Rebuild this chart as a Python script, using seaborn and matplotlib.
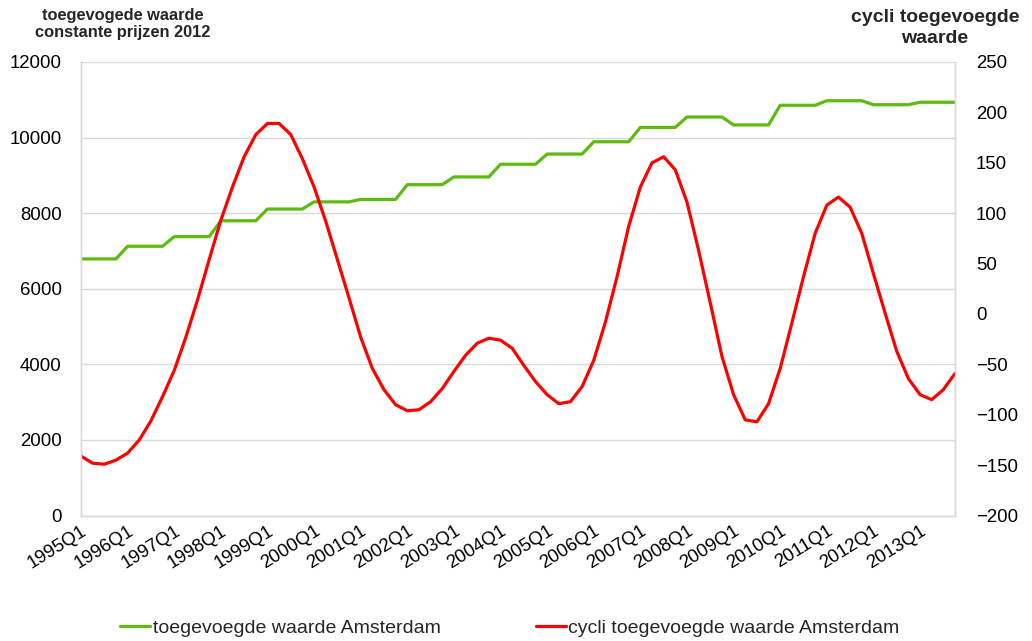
import numpy as np
import pandas as pd
import matplotlib
matplotlib.use("Agg")
import matplotlib.pyplot as plt
import seaborn as sns

years = list(range(1995, 2014))
quarters = [f"{y}Q{q}" for y in years for q in range(1, 5)]
tick_labels = [f"{y}Q1" for y in years]

# annual level (constant across quarters of a year)
annual_value = [6790, 7125, 7380, 7800, 8110, 8300, 8365, 8755, 8960, 9295,
                9565, 9890, 10270, 10545, 10335, 10855, 10975, 10870, 10935]

cycle = [-141, -148, -149, -145, -138, -125, -106, -82, -56, -23,
         14, 54, 93, 126, 156, 178, 189, 189, 178, 154,
         126, 92, 54, 16, -23, -54, -75, -90, -96, -95,
         -87, -74, -57, -41, -29, -24, -26, -34, -51, -67,
         -80, -89, -87, -72, -46, -8, 37, 87, 126, 150,
         156, 143, 111, 63, 11, -42, -80, -105, -107, -89,
         -54, -9, 37, 80, 108, 116, 106, 80, 40, 1,
         -37, -64, -80, -85, -75, -59]

level = [v for v in annual_value for _ in range(4)]
df = pd.DataFrame({"idx": np.arange(len(quarters)), "kwartaal": quarters,
                   "level": level, "cycle": cycle})

sns.set_theme(style="white")
plt.rcParams["font.family"] = ["Liberation Sans", "DejaVu Sans"]

fig = plt.figure(figsize=(10.32, 6.41), dpi=100)
ax = fig.add_axes([81/1032, 1-515.6/641, (955-81)/1032, (515.6-62)/641])
ax2 = ax.twinx()

green = "#5dbb10"
red = "#ff0000"
sns.lineplot(data=df, x="idx", y="level", ax=ax, color=green, linewidth=2.3,
             label="toegevoegde waarde Amsterdam", legend=False)
sns.lineplot(data=df, x="idx", y="cycle", ax=ax2, color=red, linewidth=2.3,
             label="cycli toegevoegde waarde Amsterdam", legend=False)

ax.set_xlim(0, len(quarters) - 1)
ax.set_ylim(0, 12000)
ax.set_yticks(range(0, 12001, 2000))
ax2.set_ylim(-200, 250)
ax2.set_yticks(range(-200, 251, 50))
ax.set_xticks(np.arange(0, len(quarters), 4))
ax.set_xticklabels(tick_labels, rotation=32, ha="right", rotation_mode="anchor")

ax.grid(axis="y", color="#d9d9d9", linewidth=1)
ax.grid(axis="x", visible=False)
ax2.grid(False)
for a in (ax, ax2):
    for s in a.spines.values():
        s.set_color("#d9d9d9")
        s.set_linewidth(1)
    a.spines["top"].set_visible(False)
    a.set_xlabel("")
    a.set_ylabel("")
    a.tick_params(length=0, labelsize=13.4, colors="black")
ax.tick_params(axis="y", pad=14)
ax2.tick_params(axis="y", pad=15)
ax.tick_params(axis="x", pad=5)

fig.text(123/1032, 1-24/641, "toegevogede waarde\nconstante prijzen 2012",
         ha="center", va="center", fontsize=11.8, fontweight="bold",
         linespacing=1.15)
fig.text(935/1032, 1-28/641, "cycli toegevoegde\nwaarde",
         ha="center", va="center", fontsize=14, fontweight="bold",
         linespacing=1.3)

h1, l1 = ax.get_legend_handles_labels()
h2, l2 = ax2.get_legend_handles_labels()
fig.legend(h1 + h2, l1 + l2, loc="center", bbox_to_anchor=(510/1032, 1-628/641),
           ncol=2, frameon=False, fontsize=14, handlelength=1.55,
           handletextpad=0.12, columnspacing=4.9)

fig.savefig("out.png", dpi=100)
